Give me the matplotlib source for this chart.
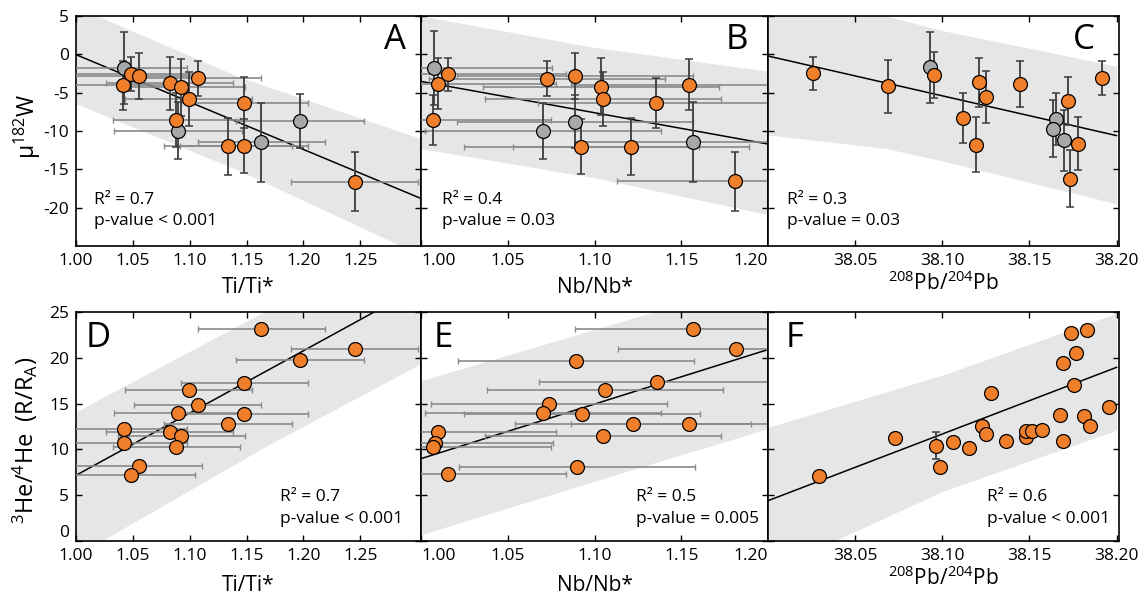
import matplotlib.pyplot as plt

plt.rcParams['font.family'] = ['Open Sans', 'DejaVu Sans']
plt.rcParams['axes.unicode_minus'] = False
plt.rcParams['mathtext.default'] = 'regular'

ORANGE = '#F07F2C'
GREY = '#A8A8A8'
BAND = '#E6E6E6'

# ---------------- top row: mu182W ----------------
# A: Ti/Ti*
a_x = [1.0417, 1.0488, 1.0550, 1.0825, 1.0927, 1.0990, 1.1070, 1.0883, 1.1480, 1.1336, 1.1477, 1.2450]
a_y = [-4.06, -2.57, -2.88, -3.80, -4.32, -5.80, -3.14, -8.55, -6.30, -12.0, -12.0, -16.6]
a_yerr = [3.2, 2.2, 3.0, 3.4, 3.7, 3.5, 2.3, 3.5, 3.3, 3.7, 3.5, 3.8]
a_gx = [1.0418, 1.0898, 1.1630, 1.1970]
a_gy = [-1.74, -9.95, -11.5, -8.7]
a_gyerr = [4.7, 3.7, 5.2, 3.5]
a_band_x = [1.0, 1.0175, 1.144, 1.3035]
a_band_hi = [6.3, 5.1, -2.97, -11.0]
a_band_lo = [-6.45, -7.5, -15.2, -26.2]
a_line_x = [1.0, 1.3035]
a_line_y = [-0.04, -18.8]

# B: Nb/Nb*
b_x = [1.0096, 1.0157, 1.0067, 1.0728, 1.0887, 1.1040, 1.1050, 1.0925, 1.1211, 1.1356, 1.1542, 1.1810]
b_y = [-3.84, -2.62, -8.55, -3.19, -2.88, -4.23, -5.80, -12.04, -12.04, -6.33, -3.97, -16.58]
b_yerr = [3.3, 2.2, 3.3, 2.3, 3.0, 3.7, 3.5, 3.6, 3.7, 3.3, 3.3, 3.8]
b_gx = [1.0073, 1.0887, 1.0703, 1.1567]
b_gy = [-1.75, -8.77, -9.99, -11.47]
b_gyerr = [4.8, 3.5, 3.7, 5.2]
b_band_x = [1.0, 1.1, 1.2]
b_band_hi = [5.0, 0.9, -2.2]
b_band_lo = [-12.3, -16.1, -20.9]
b_line_x = [1.0, 1.2]
b_line_y = [-3.53, -11.7]

# C: 208Pb/204Pb
c_x = [38.0260, 38.0690, 38.0950, 38.1209, 38.1250, 38.1117, 38.1195, 38.1448, 38.1720, 38.1780, 38.1734, 38.1916]
c_y = [-2.49, -4.19, -2.75, -3.66, -5.58, -8.33, -11.78, -3.84, -6.06, -11.65, -16.20, -3.05]
c_yerr = [2.1, 3.5, 3.0, 3.2, 3.4, 3.3, 3.6, 3.0, 3.1, 3.5, 3.7, 2.2]
c_gx = [38.0927, 38.1650, 38.1634, 38.1700]
c_gy = [-1.70, -8.40, -9.70, -11.20]
c_gyerr = [4.6, 3.4, 3.7, 4.0]
c_band_x = [38.0, 38.068, 38.1, 38.2]
c_band_hi = [10.1, 5.0, 3.1, -1.53]
c_band_lo = [-10.5, -12.3, -13.9, -19.5]
c_line_x = [38.0, 38.2]
c_line_y = [-0.22, -10.6]

# ---------------- bottom row: 3He/4He ----------------
d_x = [1.163, 1.245, 1.197, 1.148, 1.099, 1.107, 1.0898, 1.148, 1.1336, 1.0418, 1.0825, 1.0927, 1.0418, 1.0883, 1.055, 1.0488]
d_y = [23.1, 20.96, 19.76, 17.3, 16.5, 14.85, 13.93, 13.86, 12.77, 12.23, 11.86, 11.46, 10.66, 10.3, 8.19, 7.24]
d_band_x = [1.0, 1.0225, 1.165, 1.3035]
d_band_hi = [14.08, 15.6, 25.0, 34.0]
d_band_lo = [-1.5, 0.0, 10.2, 19.36]
d_line_x = [1.0, 1.3035]
d_line_y = [7.17, 27.8]

e_x = [1.157, 1.1816, 1.0895, 1.1362, 1.106, 1.0738, 1.0703, 1.093, 1.1222, 1.1544, 1.010, 1.105, 1.008, 1.007, 1.0898, 1.0157]
e_y = [23.1, 20.96, 19.7, 17.36, 16.5, 14.92, 13.93, 13.86, 12.77, 12.77, 11.9, 11.5, 10.66, 10.23, 8.1, 7.28]
e_band_x = [1.0, 1.134, 1.2]
e_band_hi = [17.5, 25.0, 28.7]
e_band_lo = [0.69, 8.5, 12.26]
e_line_x = [1.0, 1.2]
e_line_y = [8.99, 20.9]

f_x = [38.0295, 38.0728, 38.0964, 38.0989, 38.1063, 38.1155, 38.1228, 38.1249, 38.1282, 38.1364, 38.148, 38.1483,
       38.1513, 38.1573, 38.1678, 38.1693, 38.1691, 38.174, 38.1828, 38.177, 38.1755, 38.1816, 38.1845, 38.1954]
f_y = [7.13, 11.28, 10.41, 8.05, 10.81, 10.12, 12.55, 11.71, 16.16, 10.88, 11.39, 12.05,
       11.97, 12.08, 13.72, 10.96, 19.4, 22.74, 23.03, 20.56, 17.03, 13.65, 12.55, 14.66]
f_yerr = [0, 0, 1.45, 0, 0, 0, 0, 0, 0, 0, 0, 0, 0, 0, 0, 0, 0, 0, 0, 0, 0, 0, 0, 0]
f_band_x = [38.0, 38.1, 38.2]
f_band_hi = [12.4, 18.1, 24.86]
f_band_lo = [-3.3, 5.4, 12.1]
f_line_x = [38.0, 38.2]
f_line_y = [4.4, 18.96]

TI_XERR = 0.056
NB_XERR = 0.068

fig = plt.figure(figsize=(11.39, 5.97), dpi=100)
W, H = 1139, 597


def make_ax(x0, x1, y0, y1):
    return fig.add_axes([x0 / W, 1 - y1 / H, (x1 - x0) / W, (y1 - y0) / H])


def draw(ax, bx, blo, bhi, lx, ly):
    ax.fill_between(bx, blo, bhi, color=BAND, lw=0, zorder=0)
    ax.plot(lx, ly, color='black', lw=1.1, zorder=2)


def points(ax, x, y, color, xerr=None, yerr=None):
    if xerr is not None:
        ax.errorbar(x, y, xerr=xerr, fmt='none', ecolor='#8a8a8a', elinewidth=1.2,
                    capsize=2.2, capthick=1.0, zorder=3)
    if yerr is not None:
        ax.errorbar(x, y, yerr=yerr, fmt='none', ecolor='#3c3c3c', elinewidth=1.3,
                    capsize=2.8, capthick=1.1, zorder=4)
    ax.scatter(x, y, s=100, c=color, edgecolors='black', linewidths=0.9, zorder=5)


def style(ax, xlim, ylim, xticks, yticks, ylabels, edge_align=False):
    ax.set_xlim(*xlim)
    ax.set_ylim(*ylim)
    ax.set_xticks(xticks)
    ax.set_xticklabels(['%.2f' % t for t in xticks])
    ax.set_yticks(yticks)
    ax.tick_params(direction='in', top=True, right=True, length=4, width=1,
                   labelsize=12.5, pad=5)
    if not ylabels:
        ax.set_yticklabels([])
    if edge_align:
        labs = ax.get_xticklabels()
        labs[0].set_ha('left')
        labs[-1].set_ha('right')
    for s in ax.spines.values():
        s.set_linewidth(1.2)


def stats(ax, x, y, r2, p):
    ax.text(x, y, 'R² = ' + r2, transform=ax.transAxes, fontsize=12.5, va='center', ha='left')
    ax.text(x, y - 0.092, 'p-value ' + p, transform=ax.transAxes, fontsize=12.5, va='center', ha='left')


def letter(ax, x, y, s):
    ax.text(x, y, s, transform=ax.transAxes, fontsize=25, ha='center', va='center')


ti_ticks = [1.00, 1.05, 1.10, 1.15, 1.20, 1.25]
nb_ticks = [1.00, 1.05, 1.10, 1.15, 1.20]
pb_ticks = [38.05, 38.10, 38.15, 38.20]

# top row
axA = make_ax(76, 421, 16, 246)
draw(axA, a_band_x, a_band_lo, a_band_hi, a_line_x, a_line_y)
points(axA, a_gx, a_gy, GREY, xerr=TI_XERR, yerr=a_gyerr)
points(axA, a_x, a_y, ORANGE, xerr=TI_XERR, yerr=a_yerr)
style(axA, (1.0, 1.3035), (-25, 5), ti_ticks, [-20, -15, -10, -5, 0, 5], True)
axA.set_xlabel('Ti/Ti*', fontsize=15, labelpad=6)
stats(axA, 0.053, 0.2, '0.7', '< 0.001')
letter(axA, 0.925, 0.895, 'A')

axB = make_ax(421, 768, 16, 246)
draw(axB, b_band_x, b_band_lo, b_band_hi, b_line_x, b_line_y)
points(axB, b_gx, b_gy, GREY, xerr=NB_XERR, yerr=b_gyerr)
points(axB, b_x, b_y, ORANGE, xerr=NB_XERR, yerr=b_yerr)
style(axB, (1.0, 1.2), (-25, 5), nb_ticks, [-20, -15, -10, -5, 0, 5], False, True)
axB.set_xlabel('Nb/Nb*', fontsize=15, labelpad=6)
stats(axB, 0.061, 0.2, '0.4', '= 0.03')
letter(axB, 0.91, 0.895, 'B')

axC = make_ax(768, 1119, 16, 246)
draw(axC, c_band_x, c_band_lo, c_band_hi, c_line_x, c_line_y)
points(axC, c_gx, c_gy, GREY, yerr=c_gyerr)
points(axC, c_x, c_y, ORANGE, yerr=c_yerr)
style(axC, (38.0, 38.2014), (-25, 5), pb_ticks, [-20, -15, -10, -5, 0, 5], False)
axC.set_xlabel('$^{208}$Pb/$^{204}$Pb', fontsize=15, labelpad=2)
stats(axC, 0.054, 0.2, '0.3', '= 0.03')
letter(axC, 0.90, 0.895, 'C')

# bottom row
axD = make_ax(76, 421, 312, 541)
draw(axD, d_band_x, d_band_lo, d_band_hi, d_line_x, d_line_y)
points(axD, d_x, d_y, ORANGE, xerr=TI_XERR)
style(axD, (1.0, 1.3035), (0, 25), ti_ticks, [0, 5, 10, 15, 20, 25], True)
axD.get_yticklabels()[0].set_va('bottom')
axD.set_xlabel('Ti/Ti*', fontsize=15, labelpad=8)
stats(axD, 0.59, 0.19, '0.7', '< 0.001')
letter(axD, 0.065, 0.885, 'D')

axE = make_ax(421, 768, 312, 541)
draw(axE, e_band_x, e_band_lo, e_band_hi, e_line_x, e_line_y)
points(axE, e_x, e_y, ORANGE, xerr=NB_XERR)
style(axE, (1.0, 1.2), (0, 25), nb_ticks, [0, 5, 10, 15, 20, 25], False, True)
axE.set_xlabel('Nb/Nb*', fontsize=15, labelpad=8)
stats(axE, 0.62, 0.19, '0.5', '= 0.005')
letter(axE, 0.065, 0.885, 'E')

axF = make_ax(768, 1119, 312, 541)
draw(axF, f_band_x, f_band_lo, f_band_hi, f_line_x, f_line_y)
points(axF, f_x, f_y, ORANGE, yerr=f_yerr)
style(axF, (38.0, 38.2014), (0, 25), pb_ticks, [0, 5, 10, 15, 20, 25], False)
axF.set_xlabel('$^{208}$Pb/$^{204}$Pb', fontsize=15, labelpad=2)
stats(axF, 0.623, 0.19, '0.6', '< 0.001')
letter(axF, 0.075, 0.885, 'F')

fig.text(27 / W, 1 - 126 / H, 'μ$^{182}$W', rotation=90, fontsize=16.5, ha='center', va='center')
fig.text(25 / W, 1 - 440 / H, '$^{3}$He/$^{4}$He  (R/R$_{A}$)', rotation=90, fontsize=17,
         ha='center', va='center')

fig.savefig('out.png', dpi=100)
